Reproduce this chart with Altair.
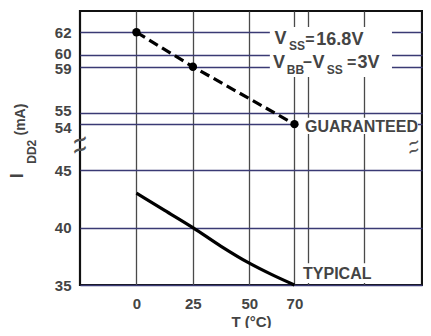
import altair as alt
import pandas as pd

# ---------------- data ----------------
guar_T = [0, 25, 70]
guar_I = [62, 59, 54]

typ_T = [0, 12.5, 25, 37.5, 50, 60, 70]
typ_I = [43, 41.5, 40, 38.37, 36.9, 35.9, 35]

y_ticks = [35, 40, 45, 54, 55, 59, 60, 62]
x_grid = [0, 25, 50, 70, 76, 101]
x_labels = [0, 25, 50, 70]

SHIFT = 5  # mA cut out of the axis between 45 and 54


def yt(v):
    return v - SHIFT if v >= 50 else v


guar = pd.DataFrame({"T": guar_T, "yt": [yt(v) for v in guar_I]})
typ = pd.DataFrame({"T": typ_T, "yt": [yt(v) for v in typ_I]})

# annotation texts (position in T, mA)
ann_text = ["V", "SS", "=", "16.8V",
            "V", "BB", "\u2013", "V", "SS", "=", "3V",
            "GUARANTEED", "TYPICAL"]
ann_T = [61.2, 67.6, 74.8, 79.7,
         60.5, 66.6, 73.8, 78.0, 84.3, 93.3, 97.9,
         74.7, 73.8]
ann_I = [61.4, 60.8, 61.33, 61.33,
         59.32, 58.72, 59.4, 59.32, 58.72, 59.32, 59.32,
         53.75, 35.96]
ann_size = [18, 12, 16, 18,
            18, 12, 16, 18, 12, 16, 18,
            16, 16]
ann = pd.DataFrame({"t": ann_text, "T": ann_T,
                    "yt": [yt(v) for v in ann_I], "size": ann_size})

# white label backgrounds (T range, mA range)
bg_T1 = [59.1, 71.6, 72.0]
bg_T2 = [113.2, 124.7, 104.3]
bg_I1 = [58.1, 53.15, 35.17]
bg_I2 = [62.45, 54.55, 36.9]
bg = pd.DataFrame({"T": bg_T1, "T2": bg_T2,
                   "yt": [yt(v) for v in bg_I1], "yt2": [yt(v) for v in bg_I2]})

# axis break marks (two wavy strokes on each side)
brk = pd.DataFrame({"T": [-25.0, -25.0, 122.8, 122.8],
                    "yt": [47.6, 46.75, 47.4, 46.7],
                    "t": ["~", "~", "~", "~"]})
brk_size = [20, 20, 15, 15]
brk["size"] = brk_size

# rotated y title pieces
yt_text = ["I", "DD2", "(mA)"]
yt_T = [-52.4, -46.3, -51.0]
yt_I = [44.5, 46.6, 49.4]
yt_size = [18, 12, 14]
ytitle = pd.DataFrame({"t": yt_text, "T": yt_T, "yt": yt_I, "size": yt_size})

FONT = "Liberation Sans"
TXT = "#444444"

xscale = alt.Scale(domain=[-25.0, 126.5], nice=False, zero=False)
yscale = alt.Scale(domain=[35, 58.85], nice=False, zero=False)

xaxis = alt.Axis(values=x_grid, title="T (\u00b0C)",
                 labelExpr="datum.value > 72 ? '' : datum.label",
                 grid=True, gridColor="#4a4a4a", gridWidth=1.3,
                 domain=False, ticks=False, labelPadding=11,
                 labelFont=FONT, labelFontSize=15, labelFontWeight="bold",
                 labelColor=TXT, titleFont=FONT, titleFontSize=15,
                 titleFontWeight="bold", titleColor=TXT, titlePadding=3)
yaxis = alt.Axis(values=[yt(v) for v in y_ticks], title=None,
                 labelExpr="datum.value >= 47 ? format(datum.value + 5, 'd') : datum.label",
                 labelOffset={"condition": [
                     {"test": "datum.value == 55", "value": -2},
                     {"test": "datum.value == 54", "value": 2},
                     {"test": "datum.value == 50", "value": -2},
                     {"test": "datum.value == 49", "value": 3}],
                     "value": 0},
                 grid=True, gridColor="#3a3a74", gridWidth=1.3,
                 domain=False, ticks=False, labelPadding=9, labelOverlap=False,
                 labelFont=FONT, labelFontSize=15, labelFontWeight="bold",
                 labelColor=TXT)


def X(f="T"):
    return alt.X(f"{f}:Q", scale=xscale, axis=xaxis)


def Y(f="yt"):
    return alt.Y(f"{f}:Q", scale=yscale, axis=yaxis)


rects = alt.Chart(bg).mark_rect(color="white").encode(
    x=X(), x2="T2", y=Y(), y2="yt2")

gline = alt.Chart(guar).mark_line(color="black", strokeWidth=3.2,
                                  strokeDash=[10, 5]).encode(x=X(), y=Y())
gpts = alt.Chart(guar).mark_circle(color="black", size=70, opacity=1).encode(x=X(), y=Y())
tline = alt.Chart(typ).mark_line(color="black", strokeWidth=3.2,
                                 interpolate="monotone").encode(x=X(), y=Y())

texts = alt.Chart(ann).mark_text(align="left", baseline="middle", font=FONT,
                                 fontWeight="bold", color=TXT).encode(
    x=X(), y=Y(), text="t:N", size=alt.Size("size:Q", scale=None))

breaks = alt.Chart(brk).mark_text(align="center", baseline="middle", font="DejaVu Sans",
                                  fontWeight="bold", angle=340,
                                  color="#555555").encode(
    x=X(), y=Y(), text="t:N", size=alt.Size("size:Q", scale=None))

ytl = alt.Chart(ytitle).mark_text(angle=270, align="center", baseline="middle",
                                  font=FONT, fontWeight="bold", color=TXT).encode(
    x=X(), y=Y(), text="t:N", size=alt.Size("size:Q", scale=None))

chart = alt.layer(rects, gline, gpts, tline, texts, breaks, ytl).properties(
    width=342, height=274,
    autosize=alt.AutoSizeParams(type="none"),
    padding={"left": 72, "top": 3, "right": 1, "bottom": 43},
    background="white",
).configure_view(stroke="#111111", strokeWidth=2.2)

chart.save("out.html", embed_options={"renderer": "svg", "actions": False})
